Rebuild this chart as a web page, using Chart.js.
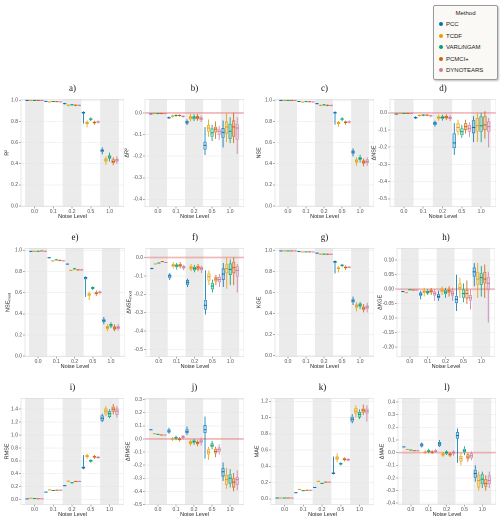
<!DOCTYPE html>
<html>
<head>
<meta charset="utf-8">
<script src="https://cdn.jsdelivr.net/npm/chart.js@4.4.1/dist/chart.umd.min.js"></script>
<style>
    body { margin: 0; width: 500px; height: 522px; overflow: hidden; position: relative; background: #fff; font-family: "Liberation Sans", Arial, sans-serif; }
    canvas { position: absolute; }
    #legend { position: absolute; left: 433px; top: 5px; width: 63px; height: 73px; border: 1px solid #9a9a9a; border-radius: 2px; background: #fbf9f5; box-shadow: 1px 1px 2px rgba(0,0,0,0.25); font-size: 6px; color: #222; }
    #legend .ttl { text-align: center; margin-top: 2px; height: 11px; line-height: 11px; }
    #legend .item { height: 11.6px; line-height: 11.6px; padding-left: 5px; white-space: nowrap; }
    #legend .dot { display: inline-block; width: 4px; height: 4px; border-radius: 50%; margin-right: 3px; vertical-align: middle; position: relative; top: -0.5px; }
</style>
</head>
<body>
<div id="legend"><div class="ttl">Method</div></div>
<script>
const noiseLevels = ['0.0', '0.1', '0.2', '0.5', '1.0'];
const methods = ['PCC', 'TCDF', 'VARLiNGAM', 'PCMCI+', 'DYNOTEARS'];
const methodColors = ['#0072B2', '#E69F00', '#009E73', '#D55E00', '#CC79A7'];

const panelLetters = ['a)', 'b)', 'c)', 'd)', 'e)', 'f)', 'g)', 'h)', 'i)', 'j)', 'k)', 'l)'];
const yTitles = ['R²', 'ΔR²', 'NSE', 'ΔNSE', 'NSE_mod', 'ΔNSE_mod', 'KGE', 'ΔKGE', 'RMSE', 'ΔRMSE', 'MAE', 'ΔMAE'];

// box stats per method, per noise level: [low whisker, q1, median, q3, high whisker]
const r2Stats = [
    [[0.997,0.998,0.999,0.999,1.0],[0.986,0.988,0.99,0.991,0.993],[0.962,0.966,0.969,0.972,0.976],[0.78,0.875,0.883,0.89,0.897],[0.49,0.512,0.524,0.536,0.555]],
    [[0.997,0.998,0.999,0.999,1.0],[0.98,0.983,0.985,0.987,0.99],[0.945,0.95,0.954,0.957,0.962],[0.745,0.775,0.785,0.795,0.81],[0.39,0.42,0.435,0.45,0.47]],
    [[0.997,0.998,0.999,0.999,1.0],[0.984,0.987,0.989,0.991,0.993],[0.95,0.955,0.958,0.961,0.966],[0.805,0.815,0.823,0.83,0.84],[0.42,0.447,0.463,0.48,0.505]],
    [[0.997,0.998,0.999,0.999,1.0],[0.983,0.986,0.988,0.99,0.992],[0.945,0.95,0.954,0.957,0.962],[0.77,0.782,0.79,0.798,0.808],[0.385,0.405,0.42,0.44,0.46]],
    [[0.997,0.998,0.999,0.999,1.0],[0.98,0.984,0.986,0.988,0.99],[0.945,0.95,0.953,0.956,0.961],[0.78,0.79,0.796,0.802,0.81],[0.4,0.42,0.435,0.447,0.47]]
];
const dR2Stats = [
    [[-0.007,-0.006,-0.005,-0.004,-0.003],[-0.028,-0.025,-0.022,-0.02,-0.017],[-0.056,-0.05,-0.043,-0.036,-0.03],[-0.195,-0.17,-0.15,-0.133,-0.065],[-0.16,-0.115,-0.09,-0.07,-0.035]],
    [[-0.005,-0.004,-0.003,-0.003,-0.002],[-0.022,-0.018,-0.015,-0.012,-0.008],[-0.04,-0.03,-0.022,-0.015,-0.005],[-0.11,-0.087,-0.07,-0.056,-0.03],[-0.135,-0.095,-0.065,-0.04,0.0]],
    [[-0.004,-0.003,-0.003,-0.002,-0.002],[-0.018,-0.015,-0.012,-0.01,-0.006],[-0.038,-0.03,-0.022,-0.015,-0.006],[-0.13,-0.11,-0.092,-0.072,-0.055],[-0.14,-0.12,-0.085,-0.05,-0.02]],
    [[-0.004,-0.003,-0.003,-0.002,-0.002],[-0.018,-0.015,-0.012,-0.01,-0.006],[-0.036,-0.028,-0.02,-0.014,-0.005],[-0.12,-0.09,-0.075,-0.064,-0.04],[-0.14,-0.11,-0.065,-0.035,0.0]],
    [[-0.005,-0.004,-0.003,-0.003,-0.002],[-0.022,-0.019,-0.016,-0.013,-0.01],[-0.042,-0.034,-0.027,-0.02,-0.012],[-0.125,-0.1,-0.085,-0.075,-0.06],[-0.19,-0.125,-0.07,-0.05,-0.02]]
];
const nseStats = [
    [[0.997,0.998,0.999,0.999,1.0],[0.985,0.987,0.989,0.99,0.992],[0.962,0.966,0.969,0.972,0.976],[0.77,0.875,0.883,0.89,0.897],[0.47,0.495,0.51,0.525,0.545]],
    [[0.997,0.998,0.999,0.999,1.0],[0.978,0.982,0.984,0.986,0.989],[0.944,0.949,0.953,0.956,0.961],[0.75,0.775,0.785,0.795,0.805],[0.38,0.41,0.425,0.44,0.46]],
    [[0.997,0.998,0.999,0.999,1.0],[0.983,0.986,0.988,0.99,0.992],[0.95,0.954,0.957,0.96,0.965],[0.805,0.815,0.823,0.83,0.84],[0.41,0.435,0.45,0.465,0.485]],
    [[0.997,0.998,0.999,0.999,1.0],[0.982,0.985,0.987,0.989,0.991],[0.944,0.949,0.953,0.956,0.961],[0.77,0.785,0.79,0.8,0.808],[0.375,0.4,0.415,0.43,0.45]],
    [[0.997,0.998,0.999,0.999,1.0],[0.979,0.983,0.985,0.987,0.99],[0.944,0.949,0.952,0.955,0.96],[0.78,0.79,0.795,0.802,0.81],[0.38,0.405,0.42,0.44,0.46]]
];
const dNseStats = [
    [[-0.009,-0.008,-0.007,-0.006,-0.005],[-0.036,-0.032,-0.028,-0.024,-0.02],[-0.08,-0.071,-0.06,-0.052,-0.045],[-0.245,-0.206,-0.175,-0.119,-0.06],[-0.17,-0.119,-0.085,-0.042,-0.02]],
    [[-0.005,-0.004,-0.003,-0.003,-0.002],[-0.022,-0.018,-0.015,-0.012,-0.008],[-0.045,-0.035,-0.027,-0.02,-0.01],[-0.13,-0.11,-0.085,-0.062,-0.04],[-0.17,-0.11,-0.075,-0.03,0.0]],
    [[-0.004,-0.003,-0.003,-0.002,-0.002],[-0.02,-0.016,-0.013,-0.01,-0.007],[-0.045,-0.035,-0.027,-0.02,-0.01],[-0.145,-0.13,-0.11,-0.09,-0.07],[-0.17,-0.11,-0.075,-0.02,0.0]],
    [[-0.004,-0.003,-0.003,-0.002,-0.002],[-0.02,-0.016,-0.013,-0.01,-0.007],[-0.042,-0.032,-0.025,-0.018,-0.008],[-0.12,-0.1,-0.08,-0.06,-0.04],[-0.15,-0.1,-0.07,-0.02,0.01]],
    [[-0.005,-0.004,-0.003,-0.003,-0.002],[-0.025,-0.02,-0.017,-0.014,-0.01],[-0.048,-0.036,-0.029,-0.022,-0.012],[-0.14,-0.11,-0.09,-0.07,-0.055],[-0.2,-0.11,-0.08,-0.05,-0.03]]
];
const nseModStats = [
    [[0.986,0.988,0.99,0.992,0.994],[0.925,0.928,0.93,0.932,0.935],[0.865,0.868,0.87,0.872,0.876],[0.56,0.725,0.74,0.75,0.755],[0.3,0.32,0.335,0.35,0.37]],
    [[0.987,0.989,0.991,0.993,0.995],[0.894,0.898,0.9,0.902,0.906],[0.804,0.808,0.81,0.812,0.816],[0.53,0.57,0.585,0.595,0.61],[0.235,0.255,0.27,0.285,0.3]],
    [[0.987,0.989,0.991,0.993,0.995],[0.905,0.908,0.91,0.912,0.916],[0.818,0.822,0.825,0.828,0.832],[0.625,0.635,0.645,0.655,0.66],[0.265,0.28,0.295,0.305,0.32]],
    [[0.99,0.992,0.994,0.996,0.998],[0.898,0.902,0.905,0.908,0.912],[0.808,0.812,0.815,0.818,0.822],[0.57,0.585,0.595,0.605,0.62],[0.235,0.25,0.265,0.28,0.3]],
    [[0.987,0.989,0.991,0.993,0.995],[0.894,0.898,0.9,0.902,0.905],[0.808,0.812,0.815,0.818,0.822],[0.585,0.595,0.605,0.61,0.62],[0.24,0.255,0.27,0.285,0.305]]
];
const dNseModStats = [
    [[-0.064,-0.062,-0.06,-0.058,-0.056],[-0.122,-0.113,-0.1,-0.092,-0.085],[-0.16,-0.149,-0.135,-0.122,-0.115],[-0.31,-0.284,-0.26,-0.23,-0.07],[-0.16,-0.122,-0.09,-0.06,-0.03]],
    [[-0.037,-0.036,-0.035,-0.034,-0.033],[-0.06,-0.05,-0.043,-0.035,-0.025],[-0.075,-0.065,-0.055,-0.045,-0.035],[-0.15,-0.126,-0.105,-0.086,-0.07],[-0.17,-0.086,-0.06,-0.036,0.0]],
    [[-0.032,-0.031,-0.03,-0.029,-0.028],[-0.065,-0.053,-0.045,-0.038,-0.03],[-0.08,-0.07,-0.06,-0.05,-0.04],[-0.19,-0.173,-0.155,-0.137,-0.12],[-0.15,-0.095,-0.065,-0.032,-0.01]],
    [[-0.024,-0.023,-0.022,-0.021,-0.02],[-0.06,-0.05,-0.042,-0.035,-0.025],[-0.075,-0.065,-0.055,-0.045,-0.035],[-0.15,-0.13,-0.117,-0.105,-0.095],[-0.15,-0.086,-0.055,-0.023,0.0]],
    [[-0.029,-0.028,-0.027,-0.026,-0.025],[-0.07,-0.06,-0.052,-0.045,-0.04],[-0.085,-0.07,-0.06,-0.05,-0.045],[-0.16,-0.135,-0.12,-0.105,-0.09],[-0.19,-0.104,-0.07,-0.047,-0.035]]
];
const kgeStats = [
    [[0.993,0.994,0.995,0.996,0.997],[0.985,0.987,0.989,0.99,0.992],[0.968,0.971,0.974,0.976,0.979],[0.78,0.88,0.893,0.9,0.905],[0.48,0.505,0.52,0.535,0.56]],
    [[0.993,0.994,0.995,0.996,0.997],[0.98,0.983,0.985,0.987,0.989],[0.958,0.962,0.965,0.967,0.97],[0.79,0.82,0.83,0.84,0.85],[0.42,0.455,0.47,0.485,0.51]],
    [[0.993,0.994,0.995,0.996,0.997],[0.981,0.984,0.986,0.988,0.99],[0.958,0.962,0.965,0.967,0.97],[0.84,0.85,0.858,0.865,0.87],[0.44,0.465,0.48,0.495,0.51]],
    [[0.993,0.994,0.995,0.996,0.997],[0.981,0.984,0.986,0.988,0.99],[0.958,0.962,0.964,0.966,0.969],[0.815,0.83,0.837,0.845,0.855],[0.41,0.43,0.45,0.465,0.49]],
    [[0.993,0.994,0.995,0.996,0.997],[0.98,0.983,0.985,0.987,0.989],[0.956,0.96,0.963,0.965,0.968],[0.83,0.835,0.84,0.845,0.85],[0.41,0.445,0.46,0.475,0.5]]
];
const dKgeStats = [
    [[-0.01,-0.009,-0.008,-0.007,-0.006],[-0.035,-0.023,-0.017,-0.011,-0.005],[-0.04,-0.031,-0.025,-0.017,-0.005],[-0.075,-0.048,-0.035,-0.023,0.05],[0.01,0.043,0.06,0.075,0.09]],
    [[-0.013,-0.012,-0.012,-0.011,-0.011],[-0.025,-0.013,-0.008,-0.003,0.005],[-0.02,-0.01,-0.004,0.003,0.01],[-0.03,-0.002,0.005,0.02,0.04],[-0.03,0.015,0.035,0.06,0.09]],
    [[-0.003,-0.003,-0.002,-0.002,-0.001],[-0.02,-0.015,-0.01,-0.005,0.0],[-0.03,-0.017,-0.01,-0.003,0.005],[-0.045,-0.03,-0.015,0.0,0.02],[-0.025,0.015,0.04,0.055,0.08]],
    [[-0.004,-0.003,-0.003,-0.002,-0.002],[-0.02,-0.012,-0.007,-0.002,0.004],[-0.025,-0.012,-0.006,0.0,0.01],[-0.05,-0.032,-0.015,-0.002,0.03],[-0.03,0.02,0.035,0.06,0.085]],
    [[-0.004,-0.003,-0.003,-0.002,-0.002],[-0.04,-0.022,-0.015,-0.008,0.0],[-0.04,-0.022,-0.015,-0.005,0.005],[-0.07,-0.04,-0.03,-0.02,0.0],[-0.115,-0.002,0.02,0.043,0.06]]
];
const rmseStats = [
    [[0.008,0.009,0.01,0.011,0.012],[0.11,0.113,0.115,0.117,0.12],[0.208,0.212,0.215,0.218,0.222],[0.47,0.48,0.495,0.51,0.69],[1.2,1.22,1.26,1.305,1.33]],
    [[0.017,0.019,0.02,0.021,0.023],[0.144,0.147,0.15,0.152,0.156],[0.275,0.28,0.285,0.29,0.295],[0.63,0.655,0.67,0.69,0.71],[1.29,1.32,1.37,1.41,1.45]],
    [[0.012,0.014,0.015,0.016,0.018],[0.134,0.137,0.14,0.142,0.146],[0.252,0.256,0.26,0.264,0.268],[0.57,0.585,0.6,0.615,0.625],[1.26,1.28,1.33,1.37,1.4]],
    [[0.01,0.011,0.012,0.013,0.014],[0.139,0.142,0.145,0.147,0.151],[0.272,0.277,0.28,0.284,0.289],[0.63,0.65,0.66,0.675,0.69],[1.32,1.36,1.4,1.44,1.48]],
    [[0.01,0.011,0.012,0.013,0.014],[0.139,0.142,0.145,0.147,0.151],[0.272,0.277,0.28,0.284,0.289],[0.63,0.64,0.652,0.665,0.675],[1.27,1.31,1.37,1.41,1.45]]
];
const dRmseStats = [
    [[0.068,0.069,0.07,0.071,0.072],[0.04,0.048,0.06,0.073,0.085],[0.03,0.043,0.055,0.073,0.095],[-0.15,0.045,0.07,0.106,0.17],[-0.32,-0.286,-0.25,-0.223,-0.18]],
    [[0.039,0.04,0.04,0.041,0.042],[-0.015,-0.005,0.0,0.005,0.015],[-0.055,-0.04,-0.028,-0.015,-0.005],[-0.16,-0.12,-0.1,-0.078,-0.06],[-0.38,-0.35,-0.31,-0.273,-0.22]],
    [[0.033,0.034,0.035,0.036,0.037],[-0.01,0.0,0.008,0.015,0.025],[-0.045,-0.03,-0.02,-0.01,0.0],[-0.08,-0.063,-0.048,-0.033,-0.015],[-0.37,-0.34,-0.3,-0.27,-0.23]],
    [[0.028,0.029,0.03,0.031,0.032],[-0.02,-0.01,-0.002,0.005,0.015],[-0.055,-0.04,-0.03,-0.02,-0.01],[-0.14,-0.11,-0.095,-0.075,-0.06],[-0.4,-0.37,-0.33,-0.3,-0.26]],
    [[0.028,0.029,0.03,0.031,0.032],[-0.005,0.005,0.015,0.025,0.03],[-0.05,-0.03,-0.018,-0.005,0.01],[-0.12,-0.1,-0.08,-0.065,-0.04],[-0.39,-0.35,-0.31,-0.29,-0.24]]
];
const maeStats = [
    [[0.008,0.009,0.01,0.011,0.012],[0.071,0.073,0.075,0.077,0.079],[0.135,0.138,0.14,0.142,0.145],[0.3,0.305,0.315,0.325,0.52],[0.93,0.95,0.98,1.01,1.04]],
    [[0.008,0.009,0.01,0.011,0.012],[0.11,0.113,0.115,0.117,0.12],[0.209,0.212,0.215,0.218,0.222],[0.45,0.48,0.5,0.52,0.56],[1.0,1.05,1.08,1.12,1.15]],
    [[0.008,0.009,0.01,0.011,0.012],[0.095,0.098,0.1,0.102,0.105],[0.184,0.187,0.19,0.193,0.196],[0.41,0.42,0.43,0.44,0.45],[0.98,1.0,1.04,1.07,1.1]],
    [[0.008,0.009,0.01,0.011,0.012],[0.1,0.103,0.105,0.107,0.11],[0.199,0.202,0.205,0.208,0.211],[0.46,0.475,0.487,0.5,0.51],[1.03,1.06,1.09,1.11,1.16]],
    [[0.008,0.009,0.01,0.011,0.012],[0.1,0.103,0.105,0.107,0.11],[0.199,0.202,0.205,0.208,0.211],[0.46,0.47,0.48,0.49,0.5],[0.95,1.05,1.08,1.11,1.15]]
];
const dMaeStats = [
    [[0.044,0.045,0.045,0.046,0.047],[0.04,0.047,0.06,0.072,0.08],[0.045,0.052,0.07,0.085,0.1],[-0.08,0.111,0.135,0.163,0.19],[-0.23,-0.2,-0.165,-0.135,-0.1]],
    [[0.024,0.025,0.025,0.026,0.027],[-0.01,-0.005,0.003,0.01,0.02],[-0.035,-0.025,-0.015,-0.005,0.005],[-0.1,-0.07,-0.045,-0.026,0.0],[-0.3,-0.277,-0.22,-0.174,-0.15]],
    [[0.019,0.02,0.02,0.021,0.022],[-0.005,0.005,0.012,0.02,0.03],[-0.02,-0.01,0.0,0.01,0.02],[-0.02,0.0,0.015,0.03,0.05],[-0.28,-0.25,-0.21,-0.17,-0.15]],
    [[0.014,0.015,0.015,0.016,0.017],[-0.01,-0.005,0.005,0.01,0.02],[-0.035,-0.025,-0.015,-0.005,0.005],[-0.07,-0.05,-0.035,-0.015,0.0],[-0.3,-0.27,-0.245,-0.21,-0.18]],
    [[0.014,0.015,0.015,0.016,0.017],[0.0,0.005,0.012,0.02,0.03],[-0.025,-0.01,-0.002,0.01,0.02],[-0.06,-0.045,-0.025,-0.005,0.01],[-0.28,-0.25,-0.22,-0.18,-0.15]]
];

const panelStats = [r2Stats, dR2Stats, nseStats, dNseStats, nseModStats, dNseModStats,
    kgeStats, dKgeStats, rmseStats, dRmseStats, maeStats, dMaeStats];

// axis setup per panel
const yMin = [-0.005, -0.433, -0.005, -0.545, -0.003, -0.538, -0.01, -0.232, -0.077, -0.5, -0.07, -0.41];
const yMax = [1.01, 0.063, 1.01, 0.079, 1.019, 0.05, 1.02, 0.141, 1.569, 0.31, 1.237, 0.429];
const yStep = [0.2, 0.1, 0.2, 0.1, 0.2, 0.1, 0.2, 0.05, 0.2, 0.1, 0.2, 0.1];
const yDecimals = [1, 1, 1, 1, 1, 1, 1, 2, 1, 1, 1, 1];
const shadedLevels = [0, 2, 4];

// layout: plot area [left, top, right, bottom] in page pixels
const plotBoxes = [
    [21, 99, 123, 207], [145, 99, 243, 207], [275, 99, 373, 207], [390, 99, 495, 207],
    [25, 248, 124, 357], [146, 248, 243, 357], [275, 248, 373, 357], [397, 248, 494, 357],
    [21, 398, 123, 505], [145, 398, 243, 505], [271, 398, 373, 505], [398, 398, 495, 505]
];
const yTitleOffset = [14, 18, 16, 16, 17, 17, 16, 17, 14, 17, 14, 16];
const Y_AXIS_W = 21;
const X_AXIS_H = 13.5;
const TITLE_H = 16.3;
const FONT = '"Liberation Sans", Arial, sans-serif';

// legend
const legendDiv = document.getElementById('legend');
methods.forEach(function (method, m) {
    const item = document.createElement('div');
    item.className = 'item';
    item.innerHTML = '<span class="dot" style="background:' + methodColors[m] + '"></span>' + method;
    legendDiv.appendChild(item);
});

function withAlpha(hex, a) {
    const n = parseInt(hex.slice(1), 16);
    return 'rgba(' + (n >> 16) + ',' + ((n >> 8) & 255) + ',' + (n & 255) + ',' + a + ')';
}

const bandPlugin = {
    id: 'bands',
    beforeDraw(chart) {
        const ctx = chart.ctx, a = chart.chartArea, x = chart.scales.x;
        ctx.save();
        ctx.fillStyle = '#ebebeb';
        shadedLevels.forEach(function (k) {
            const x0 = x.getPixelForValue(k - 0.5), x1 = x.getPixelForValue(k + 0.5);
            ctx.fillRect(x0, a.top, x1 - x0, a.bottom - a.top);
        });
        ctx.restore();
    },
    afterDraw(chart) {
        const ctx = chart.ctx, a = chart.chartArea;
        ctx.save();
        ctx.strokeStyle = '#d9d9d9';
        ctx.lineWidth = 0.6;
        ctx.strokeRect(a.left, a.top, a.right - a.left, a.bottom - a.top);
        ctx.restore();
    }
};

const zeroLinePlugin = {
    id: 'zeroLine',
    beforeDatasetsDraw(chart, args, opts) {
        if (!opts.show) return;
        const ctx = chart.ctx, a = chart.chartArea, y = chart.scales.y;
        const py = y.getPixelForValue(0);
        ctx.save();
        ctx.strokeStyle = 'rgba(235,110,110,0.45)';
        ctx.lineWidth = 1.8;
        ctx.beginPath();
        ctx.moveTo(a.left, py);
        ctx.lineTo(a.right, py);
        ctx.stroke();
        ctx.restore();
    }
};

// whiskers and medians, placed on the bar elements
const whiskerPlugin = {
    id: 'whiskers',
    afterDatasetsDraw(chart) {
        const ctx = chart.ctx, y = chart.scales.y;
        ctx.save();
        chart.data.datasets.forEach(function (ds, d) {
            const meta = chart.getDatasetMeta(d);
            meta.data.forEach(function (bar, k) {
                const p = bar.getProps(['x', 'width'], true);
                const s = ds.stats[k];
                ctx.strokeStyle = ds.lineColor;
                ctx.lineWidth = 0.8;
                ctx.beginPath();
                ctx.moveTo(p.x, y.getPixelForValue(s[0]));
                ctx.lineTo(p.x, y.getPixelForValue(s[1]));
                ctx.moveTo(p.x, y.getPixelForValue(s[3]));
                ctx.lineTo(p.x, y.getPixelForValue(s[4]));
                ctx.stroke();
                ctx.lineWidth = 1;
                ctx.beginPath();
                const ym = y.getPixelForValue(s[2]);
                ctx.moveTo(p.x - p.width / 2, ym);
                ctx.lineTo(p.x + p.width / 2, ym);
                ctx.stroke();
            });
        });
        ctx.restore();
    }
};

const yTitlePlugin = {
    id: 'yTitle',
    afterDraw(chart, args, opts) {
        const ctx = chart.ctx, a = chart.chartArea;
        const parts = opts.text.split('_');
        ctx.save();
        ctx.translate(a.left - opts.offset, (a.top + a.bottom) / 2);
        ctx.rotate(-Math.PI / 2);
        ctx.fillStyle = '#222';
        ctx.textBaseline = 'middle';
        ctx.font = '5.5px ' + FONT;
        const mw = ctx.measureText(parts[0]).width;
        let sw = 0;
        if (parts[1]) {
            ctx.font = '4px ' + FONT;
            sw = ctx.measureText(parts[1]).width;
        }
        const start = -(mw + sw) / 2;
        ctx.font = '5.5px ' + FONT;
        ctx.fillText(parts[0], start, 0);
        if (parts[1]) {
            ctx.font = '4px ' + FONT;
            ctx.fillText(parts[1], start + mw, 1.6);
        }
        ctx.restore();
    }
};

function fmtTick(v, dec) {
    if (Math.abs(v) < 1e-9) v = 0;
    return v.toFixed(dec);
}

function makePanel(i) {
    const box = plotBoxes[i];
    const plotW = box[2] - box[0], plotH = box[3] - box[1];
    const cw = Y_AXIS_W + plotW + 1;
    const ch = TITLE_H + plotH + X_AXIS_H;

    const canvas = document.createElement('canvas');
    canvas.width = cw;
    canvas.height = ch;
    canvas.style.left = (box[0] - Y_AXIS_W) + 'px';
    canvas.style.top = (box[1] - TITLE_H) + 'px';
    canvas.style.width = cw + 'px';
    canvas.style.height = ch + 'px';
    document.body.appendChild(canvas);

    const datasets = methods.map(function (method, m) {
        const stats = panelStats[i][m];
        return {
            label: method,
            data: stats.map(function (s, k) { return { x: k, y: [s[1], s[3]] }; }),
            stats: stats,
            lineColor: methodColors[m],
            backgroundColor: withAlpha(methodColors[m], 0.25),
            borderColor: withAlpha(methodColors[m], 0.85),
            borderWidth: 0.8,
            borderSkipped: false,
            barPercentage: 0.9,
            categoryPercentage: 0.98
        };
    });

    new Chart(canvas, {
        type: 'bar',
        data: { datasets: datasets },
        options: {
            responsive: false,
            animation: false,
            devicePixelRatio: 2,
            layout: { padding: 0 },
            scales: {
                x: {
                    type: 'linear',
                    offset: false,
                    min: -0.72,
                    max: 4.77,
                    afterBuildTicks: function (s) {
                        s.ticks = noiseLevels.map(function (lv, k) { return { value: k }; });
                    },
                    afterFit: function (s) { s.height = X_AXIS_H; },
                    ticks: {
                        autoSkip: false,
                        maxRotation: 0,
                        padding: 0,
                        font: { family: FONT, size: 5 },
                        color: '#4d4d4d',
                        callback: function (v) { return noiseLevels[v]; }
                    },
                    grid: { drawOnChartArea: false, offset: false, tickLength: 2, tickColor: '#555', lineWidth: 0.5 },
                    border: { display: false },
                    title: { display: true, text: 'Noise Level', padding: 0, font: { family: FONT, size: 5.5 }, color: '#222' }
                },
                y: {
                    min: yMin[i],
                    max: yMax[i],
                    afterFit: function (s) { s.width = Y_AXIS_W; },
                    ticks: {
                        stepSize: yStep[i],
                        includeBounds: false,
                        padding: 1,
                        font: { family: FONT, size: 5 },
                        color: '#4d4d4d',
                        callback: function (v) { return fmtTick(v, yDecimals[i]); }
                    },
                    grid: { color: '#e6e6e6', lineWidth: 0.5, tickLength: 2, tickColor: '#555' },
                    border: { display: false }
                }
            },
            plugins: {
                legend: { display: false },
                tooltip: { enabled: false },
                title: {
                    display: true,
                    fullSize: false,
                    text: panelLetters[i],
                    color: '#111',
                    font: { family: '"Liberation Serif", "Times New Roman", serif', size: 9, weight: 'normal' },
                    padding: { top: 0, bottom: 5.5 }
                },
                zeroLine: { show: i % 2 === 1 },
                yTitle: { text: yTitles[i], offset: yTitleOffset[i] }
            }
        },
        plugins: [bandPlugin, zeroLinePlugin, whiskerPlugin, yTitlePlugin]
    });
}

for (let i = 0; i < plotBoxes.length; i++) {
    makePanel(i);
}
</script>
</body>
</html>
